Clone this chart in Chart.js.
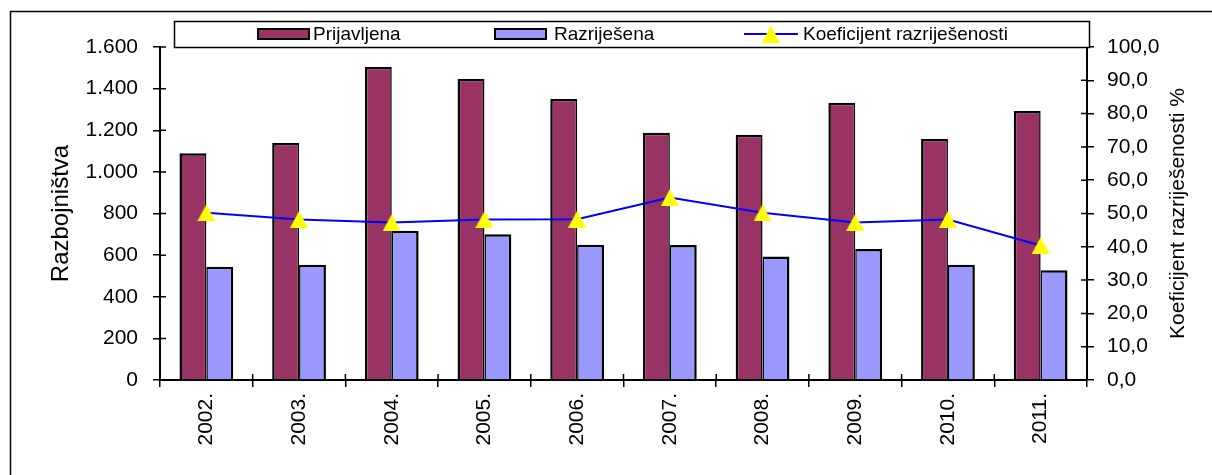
<!DOCTYPE html>
<html>
<head>
<meta charset="utf-8">
<script src="https://cdn.jsdelivr.net/npm/chart.js@4.4.1/dist/chart.umd.min.js"></script>
<style>
  body { margin: 0; background: #fff; }
</style>
</head>
<body>
<canvas id="robberyChart" width="1212" height="475"></canvas>
<script>
// values
const years = ['2002.', '2003.', '2004.', '2005.', '2006.', '2007.', '2008.', '2009.', '2010.', '2011.'];
const reported = [1090, 1139, 1504, 1446, 1350, 1188, 1178, 1332, 1158, 1293];
const solved = [544, 554, 717, 700, 650, 649, 593, 630, 554, 527];
const solvedRate = [50.2, 48.2, 47.3, 48.2, 48.3, 54.8, 50.2, 47.3, 48.2, 40.4];
const leftTitle = 'Razbojništva';
const rightTitle = 'Koeficijent razriješenosti %';

Chart.defaults.font.family = '"Liberation Sans", Arial, sans-serif';
Chart.defaults.color = '#000';

// yellow triangle, centred on its bounding box like the Excel marker
function triangleMarker(w, h, color) {
  const c = document.createElement('canvas');
  c.width = w;
  c.height = h;
  const g = c.getContext('2d');
  g.fillStyle = color;
  g.beginPath();
  g.moveTo(w / 2, 0);
  g.lineTo(w, h);
  g.lineTo(0, h);
  g.closePath();
  g.fill();
  return c;
}
const marker = triangleMarker(18, 17, '#FFFF00');

const fmtThousands = v => String(v).replace(/\B(?=(\d{3})+(?!\d))/g, '.');
const fmtPercent = v => v.toFixed(1).replace('.', ',');

// Excel draws its tick marks across the axis, chart.js only outside: add the inner half
const crossTicks = {
  id: 'crossTicks',
  afterDatasetsDraw(chart) {
    const { ctx, chartArea: a, scales } = chart;
    const len = 6;
    ctx.save();
    ctx.strokeStyle = '#000';
    ctx.lineWidth = 1.5;
    ctx.beginPath();
    scales.y.ticks.forEach(t => {
      const y = scales.y.getPixelForValue(t.value);
      ctx.moveTo(a.left, y);
      ctx.lineTo(a.left + len, y);
    });
    scales.y1.ticks.forEach(t => {
      const y = scales.y1.getPixelForValue(t.value);
      ctx.moveTo(a.right - len, y);
      ctx.lineTo(a.right, y);
    });
    const step = (a.right - a.left) / years.length;
    for (let i = 0; i <= years.length; i++) {
      const x = a.left + i * step;
      ctx.moveTo(x, a.bottom - len);
      ctx.lineTo(x, a.bottom);
    }
    ctx.stroke();
    ctx.restore();
  }
};

// outer frame, boxed legend and the right axis title (reads bottom to top)
const decorations = {
  id: 'decorations',
  beforeDraw(chart) {
    const ctx = chart.ctx;
    ctx.save();
    ctx.fillStyle = '#fff';
    ctx.fillRect(0, 0, chart.width, chart.height);
    ctx.strokeStyle = '#000';
    ctx.lineWidth = 1.5;
    ctx.strokeRect(10.5, 11.5, chart.width + 20, chart.height + 20);
    ctx.restore();
  },
  afterDraw(chart, args, opts) {
    const ctx = chart.ctx;
    const area = chart.chartArea;
    ctx.save();

    // legend box
    ctx.fillStyle = '#fff';
    ctx.fillRect(174, 21, 915, 26);
    ctx.strokeStyle = '#000';
    ctx.lineWidth = 1.5;
    ctx.strokeRect(174.5, 21.5, 915, 26);

    ctx.font = '19px "Liberation Sans", Arial, sans-serif';
    ctx.textBaseline = 'middle';
    ctx.textAlign = 'left';
    const cy = 34;
    chart.data.datasets.forEach((ds, i) => {
      const x = opts.itemX[i];
      if (ds.type === 'line') {
        ctx.strokeStyle = ds.borderColor;
        ctx.lineWidth = 2;
        ctx.beginPath();
        ctx.moveTo(x, cy);
        ctx.lineTo(x + 54, cy);
        ctx.stroke();
        ctx.drawImage(marker, x + 27 - marker.width / 2, cy - marker.height / 2);
      } else {
        ctx.fillStyle = ds.backgroundColor;
        ctx.fillRect(x, cy - 5, 51, 10);
        ctx.strokeStyle = '#000';
        ctx.lineWidth = 2;
        ctx.strokeRect(x, cy - 5, 51, 10);
      }
      ctx.fillStyle = '#000';
      ctx.fillText(ds.label, x + opts.textGap[i], cy + 1);
    });

    // right axis title
    ctx.font = '21px "Liberation Sans", Arial, sans-serif';
    ctx.textAlign = 'center';
    ctx.translate(1178, (area.top + area.bottom) / 2);
    ctx.rotate(-Math.PI / 2);
    ctx.fillText(rightTitle, 0, 0);
    ctx.restore();
  }
};

const ctx = document.getElementById('robberyChart').getContext('2d');
new Chart(ctx, {
  type: 'bar',
  data: {
    labels: years,
    datasets: [
      {
        type: 'bar',
        label: 'Prijavljena',
        data: reported,
        backgroundColor: '#993366',
        borderColor: '#000',
        borderWidth: { top: 2.5, left: 2.5, right: 1.5, bottom: 0 },
        borderSkipped: false,
        categoryPercentage: 0.58,
        barPercentage: 1.0,
        order: 1
      },
      {
        type: 'bar',
        label: 'Razriješena',
        data: solved,
        backgroundColor: '#9999FF',
        borderColor: '#000',
        borderWidth: { top: 2.5, left: 1.5, right: 2.5, bottom: 0 },
        borderSkipped: false,
        categoryPercentage: 0.58,
        barPercentage: 1.0,
        order: 1
      },
      {
        type: 'line',
        label: 'Koeficijent razriješenosti',
        data: solvedRate,
        yAxisID: 'y1',
        borderColor: '#0000FF',
        borderWidth: 2,
        pointStyle: marker,
        pointRadius: 9,
        tension: 0,
        order: 0
      }
    ]
  },
  options: {
    responsive: false,
    animation: false,
    layout: { padding: { top: 47, left: 0, right: 0, bottom: 0 } },
    plugins: {
      legend: { display: false },
      tooltip: { enabled: false },
      decorations: { itemX: [258, 495, 744], textGap: [55, 59, 59] }
    },
    scales: {
      x: {
        grid: { offset: true, drawOnChartArea: false, color: '#000', tickLength: 7, lineWidth: 1.5 },
        border: { color: '#000', width: 2 },
        ticks: { minRotation: 90, maxRotation: 90, padding: 6, font: { size: 21 } },
        afterFit(scale) { scale.height = 95; }
      },
      y: {
        position: 'left',
        min: 0,
        max: 1600,
        grid: { drawOnChartArea: false, color: '#000', tickLength: 7, lineWidth: 1.5 },
        border: { color: '#000', width: 2 },
        ticks: { stepSize: 200, padding: 15, font: { size: 21 }, callback: v => fmtThousands(v) },
        title: { display: true, text: leftTitle, font: { size: 24 }, padding: { top: 47, bottom: 0 } },
        afterFit(scale) { scale.width = 160; }
      },
      y1: {
        position: 'right',
        min: 0,
        max: 100,
        grid: { drawOnChartArea: false, color: '#000', tickLength: 7, lineWidth: 1.5 },
        border: { color: '#000', width: 2 },
        ticks: { stepSize: 10, padding: 13, font: { size: 21 }, callback: v => fmtPercent(v) },
        afterFit(scale) { scale.width = 125; }
      }
    }
  },
  plugins: [crossTicks, decorations]
});
</script>
</body>
</html>
